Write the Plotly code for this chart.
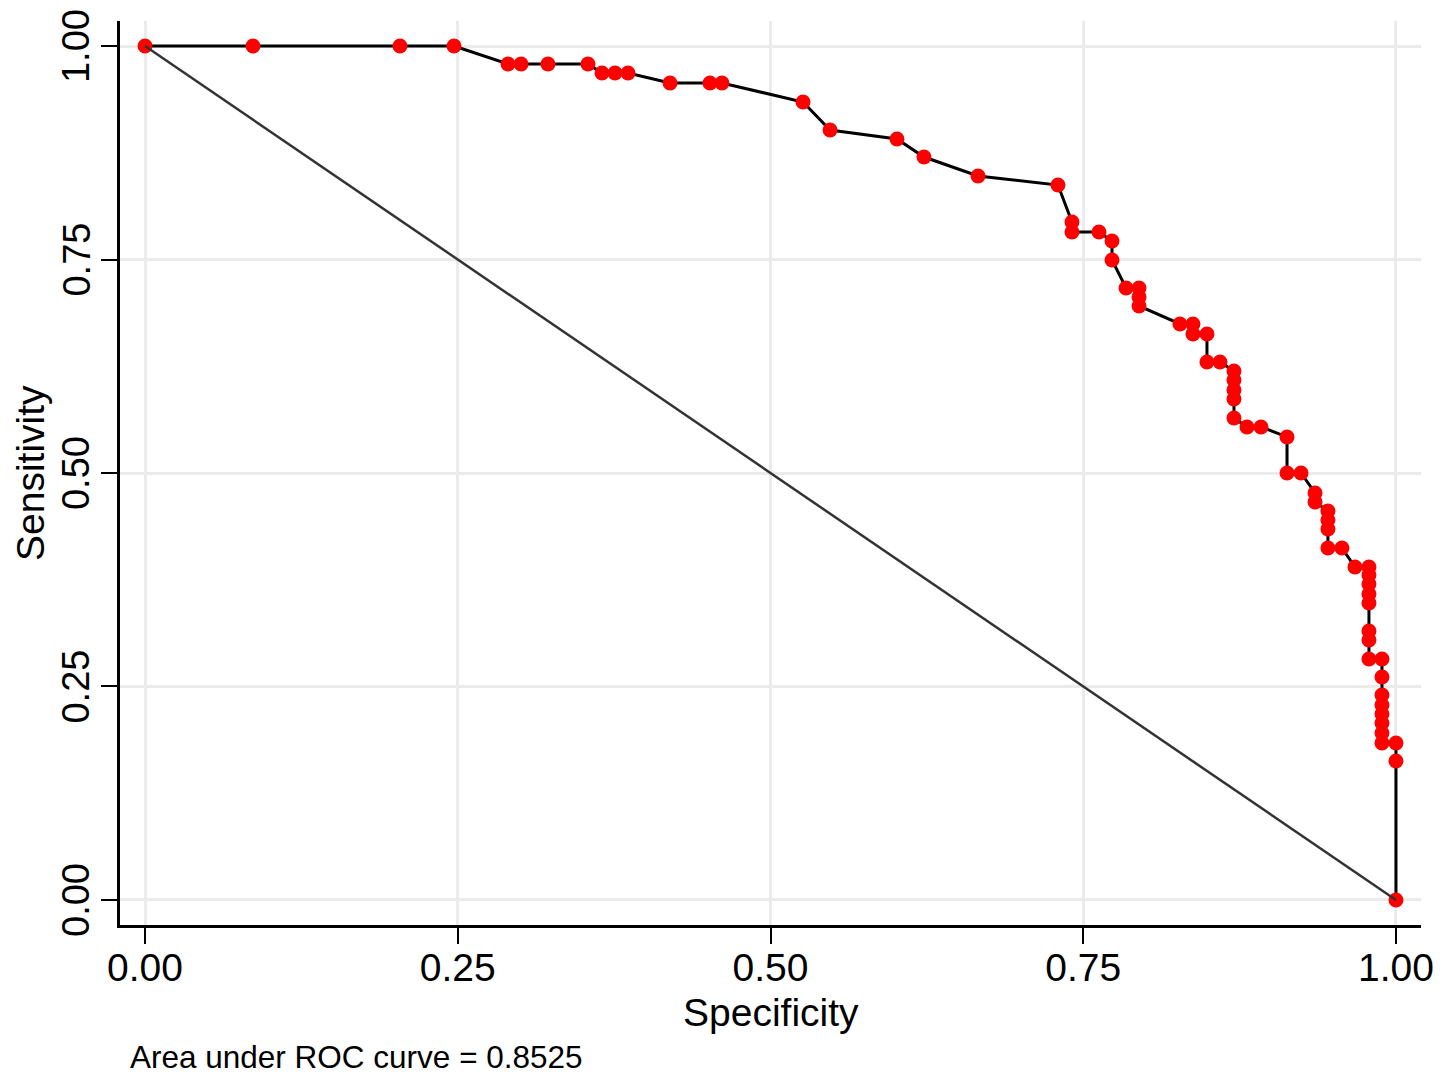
import plotly.graph_objects as go

# ROC curve points (x = specificity axis value, y = sensitivity)
spec = [0.0, 0.0863, 0.2038, 0.2470, 0.2902, 0.3006, 0.3221, 0.3541,
        0.3653, 0.3757, 0.3861, 0.4197, 0.4516, 0.4612, 0.5260, 0.5476,
        0.6011, 0.6227, 0.6659, 0.7298, 0.7410, 0.7410, 0.7626, 0.7730,
        0.7730, 0.7842, 0.7946, 0.7946, 0.7946, 0.8273, 0.8377, 0.8377,
        0.8489, 0.8489, 0.8593, 0.8705, 0.8705, 0.8705, 0.8705, 0.8705,
        0.8809, 0.8921, 0.9129, 0.9129, 0.9241, 0.9353, 0.9353, 0.9456,
        0.9456, 0.9456, 0.9456, 0.9568, 0.9672, 0.9784, 0.9784, 0.9784,
        0.9784, 0.9784, 0.9784, 0.9784, 0.9784, 0.9888, 0.9888, 0.9888,
        0.9888, 0.9888, 0.9888, 0.9888, 0.9888, 1.0, 1.0, 1.0]
sens = [1.0, 1.0, 1.0, 1.0, 0.9789, 0.9789, 0.9789, 0.9789,
        0.9684, 0.9684, 0.9684, 0.9567, 0.9567, 0.9567, 0.9344, 0.9016,
        0.8911, 0.8700, 0.8478, 0.8372, 0.7939, 0.7822, 0.7822, 0.7717,
        0.7494, 0.7166, 0.7166, 0.7061, 0.6956, 0.6745, 0.6745, 0.6628,
        0.6628, 0.6300, 0.6300, 0.6194, 0.6089, 0.5972, 0.5867, 0.5644,
        0.5539, 0.5539, 0.5422, 0.5000, 0.5000, 0.4766, 0.4660, 0.4555,
        0.4450, 0.4344, 0.4122, 0.4122, 0.3899, 0.3899, 0.3806, 0.3700,
        0.3583, 0.3478, 0.3150, 0.3044, 0.2822, 0.2822, 0.2611, 0.2400,
        0.2283, 0.2178, 0.2073, 0.1956, 0.1838, 0.1838, 0.1628, 0.0]

ref_x = [0.0, 1.0]
ref_y = [1.0, 0.0]

tick_vals = [0.0, 0.25, 0.5, 0.75, 1.0]
tick_text = ["0.00", "0.25", "0.50", "0.75", "1.00"]
x_title = "Specificity"
y_title = "Sensitivity"
auc_text = "Area under ROC curve = 0.8525"

FONT = "Liberation Sans, Arial, Helvetica, sans-serif"

fig = go.Figure()
fig.add_trace(go.Scatter(
    x=spec, y=sens, mode="lines+markers",
    line=dict(color="black", width=3),
    marker=dict(color="#ff0000", size=15, line=dict(width=0)),
    showlegend=False, hoverinfo="skip"))
fig.add_trace(go.Scatter(
    x=ref_x, y=ref_y, mode="lines",
    line=dict(color="#333333", width=2.5),
    showlegend=False, hoverinfo="skip"))

axis_common = dict(
    tickvals=tick_vals, ticktext=tick_text,
    showgrid=True, gridcolor="#ebebeb", gridwidth=3,
    showline=True, linecolor="black", linewidth=2.5,
    ticks="outside", ticklen=16, tickwidth=2, tickcolor="black",
    zeroline=False, automargin=False)

annotations = [
    dict(text=x_title, xref="paper", yref="paper",
         x=0.5, y=-0.0973, xanchor="center", yanchor="middle",
         showarrow=False, font=dict(size=39, family=FONT)),
    dict(text=y_title, xref="paper", yref="paper",
         x=-0.0692, y=0.5, xanchor="center", yanchor="middle",
         textangle=-90, showarrow=False, font=dict(size=39, family=FONT)),
    dict(text=auc_text, xref="paper", yref="paper",
         x=0.006, y=-0.1465, xanchor="left", yanchor="middle",
         showarrow=False, font=dict(size=31.5, family=FONT)),
]
# y tick labels drawn as rotated annotations anchored to the y axis values
for v, t in zip(tick_vals, tick_text):
    annotations.append(dict(
        text=t, xref="paper", yref="y", x=-0.0338, y=v,
        xanchor="center", yanchor="middle", textangle=-90,
        showarrow=False, font=dict(size=38, family=FONT)))

fig.update_layout(
    width=1443, height=1068,
    margin=dict(l=112, r=30, t=13, b=151),
    paper_bgcolor="white", plot_bgcolor="white",
    font=dict(family=FONT, color="black", size=38),
    xaxis=dict(range=[-0.02, 1.02], tickfont=dict(size=39),
               ticklabelstandoff=-10, **axis_common),
    yaxis=dict(range=[-0.0293, 1.0293], showticklabels=False, **axis_common),
    annotations=annotations,
)

fig.write_html("out.html")
